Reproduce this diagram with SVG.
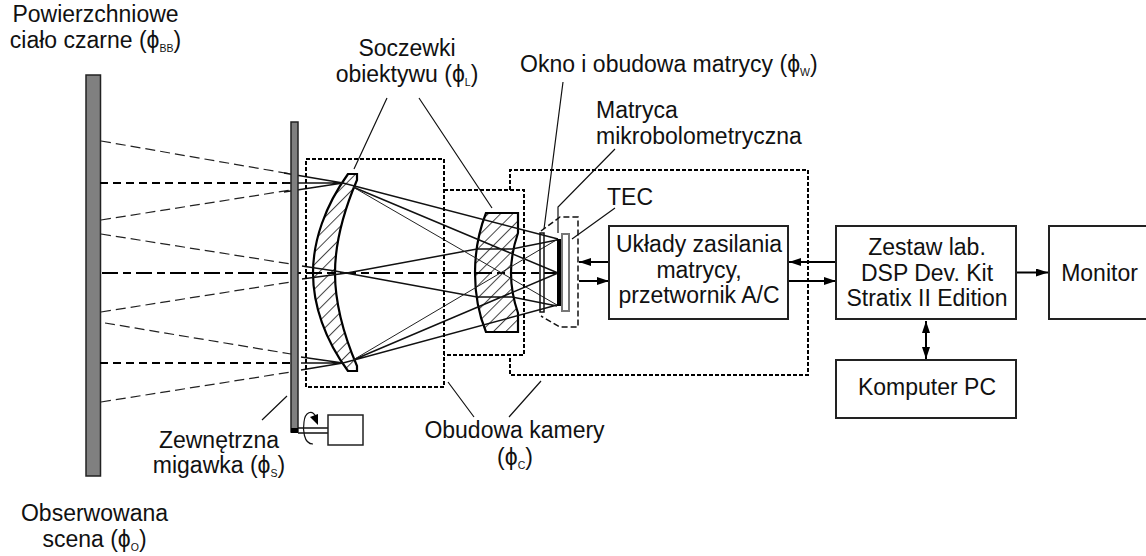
<svg xmlns="http://www.w3.org/2000/svg" width="1146" height="556" viewBox="0 0 1146 556">
<defs>
<pattern id="hatch" width="8.700" height="8.700" patternUnits="userSpaceOnUse" patternTransform="rotate(-45)"><rect width="9" height="9" fill="#fff"/><line x1="0" y1="0.5" x2="9" y2="0.5" stroke="#444" stroke-width="1"/></pattern>
<marker id="ah" markerUnits="userSpaceOnUse" markerWidth="13" markerHeight="9" refX="12" refY="4" orient="auto-start-reverse"><path d="M0,0L12,4L0,8z" fill="#000"/></marker>
</defs>
<style>
text{font-family:"Liberation Sans",Arial,sans-serif;font-size:23px;fill:#111;text-anchor:middle}
.sub{font-size:10.5px}
.box{fill:#fff;stroke:#222;stroke-width:2}
.dot{fill:none;stroke:#000;stroke-width:2;stroke-dasharray:4 2}
.ray{fill:none;stroke:#111;stroke-width:1.500}
.thin{fill:none;stroke:#222;stroke-width:1}
.dr{fill:none;stroke:#222;stroke-width:1.200;stroke-dasharray:10 5}
.db{fill:none;stroke:#000;stroke-width:2;stroke-dasharray:8 5}
.ld{fill:none;stroke:#111;stroke-width:1.200}
.ar{fill:none;stroke:#000;stroke-width:2;marker-end:url(#ah)}
</style>
<g id="scene"><rect x="86" y="75" width="14.500" height="401" fill="#808080" stroke="#222" stroke-width="1.500"/></g>
<g id="lens1"><path d="M348,174L357,174L357,180C342,215 335,245 335,273C335,301 342,331 357,366L357,371L348,371C325,340 313,305 313,273C313,241 325,206 348,174Z" fill="url(#hatch)" stroke="#000" stroke-width="2.200"/></g>
<g id="lens2"><path d="M486,213L518,213L518,233Q511,253 511,273Q511,293 518,313L518,332L486,332Q475,305 475,273Q475,241 486,213Z" fill="url(#hatch)" stroke="#000" stroke-width="2.200"/></g>
<g id="connectors">
<path class="dr" d="M101,141L291,174M101,220L291,190M101,234L291,264M101,312L291,282M105,323L291,354M101,402L291,372"/>
<path class="db" d="M100,183L291,183M100,363L291,363"/>
<path fill="none" stroke="#000" stroke-width="2" stroke-dasharray="16 5 8 5" d="M102,273L556,273"/>
<path class="ray" d="M284,173L343,183L558,239M284,183L343,183M284,192L343,183M353,187L558,273M302,266L335,271L477,297L512,297L557,306M302,279L347,273L477,249L512,249L557,240M301,357L343,363M301,363L343,363M301,370L343,363L557,305M353,360L558,273"/>
<path class="thin" d="M353,187L557,305M353,360L558,239"/>
<path class="ld" d="M387,98L354,169M419,98L492,208M563,82L544,229M615,149L558,207L558,233M615,208L572,239M287,396L262,420M448,382L474,417M541,381L509,417"/>
<path class="ar" d="M609,262L579,262"/>
<path class="ar" d="M579,281L609,281"/>
<path class="ar" d="M836,262L789,262"/>
<path class="ar" d="M789,281L836,281"/>
<path class="ar" d="M1016,272.500L1048,272.500"/>
<path fill="none" stroke="#000" stroke-width="2" marker-start="url(#ah)" marker-end="url(#ah)" d="M926,321L926,359"/>
</g>
<g id="housing"><rect class="dot" x="306" y="159" width="138" height="228"/><path class="dot" d="M444,190L524,190L524,355L444,355"/><path class="dot" d="M510,190L510,170L808,170L808,375L510,375L510,355"/></g>
<g id="sensor">
<rect x="540" y="233" width="4" height="79" fill="none" stroke="#111" stroke-width="1.500"/>
<rect x="557" y="239" width="4.500" height="67" fill="#000"/>
<rect x="562" y="234" width="7" height="77" fill="#fff" stroke="#777" stroke-width="2"/>
<path d="M541,231L560,217L578,217L578,327L560,327L541,316" fill="none" stroke="#111" stroke-width="1.500" stroke-dasharray="6 3"/>
</g>
<g id="shutter">
<rect x="291" y="122" width="7" height="310" fill="#808080" stroke="#222" stroke-width="1.500"/>
<rect x="291" y="428" width="7" height="5" fill="#000"/>
<path d="M298,428L328,428M298,433L328,433" stroke="#111" stroke-width="1.500"/>
<rect x="328" y="415" width="35" height="30" fill="#fff" stroke="#222" stroke-width="1.500"/>
<path d="M313,444C303,444 303,428 304,422C305,412 312,409 316,417" fill="none" stroke="#111" stroke-width="1.200"/><path d="M318,425L310,417L318,414z" fill="#000"/>
</g>
<g id="uklady"><rect class="box" x="609" y="226" width="179" height="93"/><text x="699" y="252">Układy zasilania</text><text x="699" y="278">matrycy,</text><text x="699" y="303">przetwornik A/C</text></g>
<g id="zestaw"><rect class="box" x="836" y="226" width="180" height="93"/><text x="927" y="255">Zestaw lab.</text><text x="927" y="281">DSP Dev. Kit</text><text x="927" y="306">Stratix II Edition</text></g>
<g id="monitor"><rect class="box" x="1049" y="226" width="100" height="93"/><text x="1099.500" y="281">Monitor</text></g>
<g id="komputer"><rect class="box" x="836" y="360" width="180" height="58"/><text x="927" y="395">Komputer PC</text></g>
<g id="labels">
<text x="95.500" y="22">Powierzchniowe</text>
<text x="95.500" y="48">ciało czarne (ϕ<tspan class="sub" dy="4">BB</tspan><tspan dy="-4">)</tspan></text>
<text x="407" y="56">Soczewki</text>
<text x="407" y="82">obiektywu (ϕ<tspan class="sub" dy="4">L</tspan><tspan dy="-4">)</tspan></text>
<text x="520" y="72" style="text-anchor:start">Okno i obudowa matrycy (ϕ<tspan class="sub" dy="4">W</tspan><tspan dy="-4">)</tspan></text>
<text x="596" y="118" style="text-anchor:start">Matryca</text>
<text x="596" y="144" style="text-anchor:start">mikrobolometryczna</text>
<text x="607" y="205" style="text-anchor:start">TEC</text>
<text x="219" y="448">Zewnętrzna</text>
<text x="219" y="473">migawka (ϕ<tspan class="sub" dy="4">S</tspan><tspan dy="-4">)</tspan></text>
<text x="514.500" y="438">Obudowa kamery</text>
<text x="515" y="465">(ϕ<tspan class="sub" dy="4">C</tspan><tspan dy="-4">)</tspan></text>
<text x="94.500" y="521">Obserwowana</text>
<text x="94.500" y="547">scena (ϕ<tspan class="sub" dy="4">O</tspan><tspan dy="-4">)</tspan></text>
</g>
</svg>
